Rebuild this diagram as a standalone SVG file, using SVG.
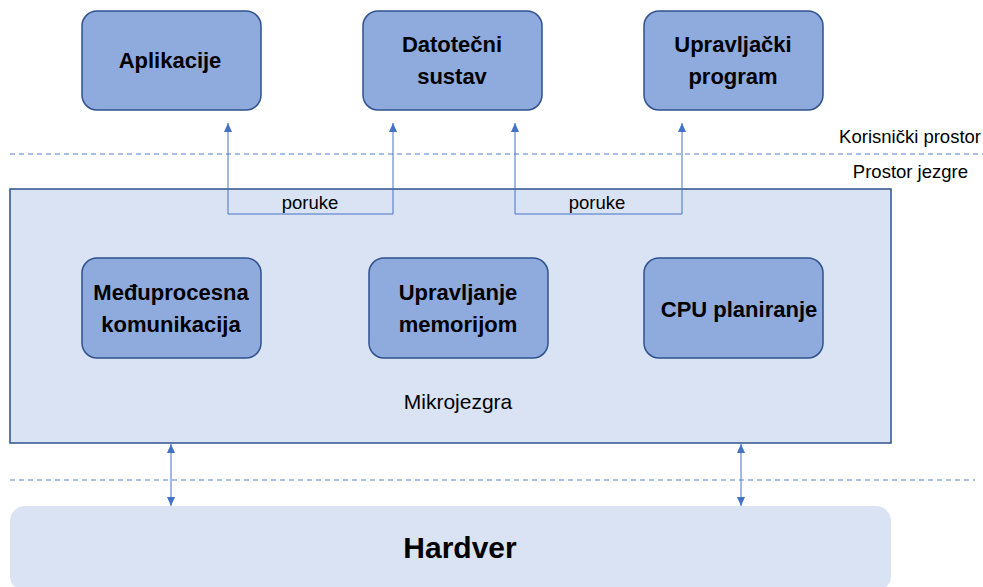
<svg xmlns="http://www.w3.org/2000/svg" width="983" height="587" viewBox="0 0 983 587">
<style>
.node{fill:#8faadc;stroke:#2f528f;stroke-width:1.5}
.nt{font-family:"Liberation Sans",Arial,sans-serif;font-weight:bold;font-size:22px;fill:#000;text-anchor:middle}
.lbl{font-family:"Liberation Sans",Arial,sans-serif;font-size:18.5px;fill:#000}
.dash{stroke:#8faadc;stroke-width:1.5;stroke-dasharray:5,4;fill:none}
.conn{stroke:#4472c4;stroke-width:1;fill:none}
</style>
<defs>
<marker id="ah" viewBox="0 0 10 10" refX="10" refY="5" markerWidth="9" markerHeight="8" orient="auto-start-reverse" markerUnits="userSpaceOnUse" preserveAspectRatio="none">
<path d="M0,0 L10,5 L0,10 Z" fill="#4472c4"/>
</marker>
</defs>
<rect width="983" height="587" fill="#fff"/>
<line class="dash" x1="10" y1="154" x2="983" y2="154"/>
<line class="dash" x1="10" y1="480" x2="975" y2="480"/>
<text class="lbl" x="981" y="143" text-anchor="end">Korisnički prostor</text>
<text class="lbl" x="968" y="178" text-anchor="end">Prostor jezgre</text>
<g id="kernel">
<rect x="10" y="189" width="881" height="254" fill="#dae3f3" stroke="#2f528f" stroke-width="1.5"/>
<text class="lbl" x="458" y="409" text-anchor="middle" style="font-size:21px">Mikrojezgra</text>
</g>
<g id="hardver">
<rect x="10" y="506" width="881" height="85" rx="15" fill="#dae3f3"/>
<text x="460" y="558" text-anchor="middle" font-family="Liberation Sans,Arial,sans-serif" font-weight="bold" font-size="30">Hardver</text>
</g>
<g id="aplikacije">
<rect class="node" x="82" y="11" width="179" height="99" rx="15"/>
<text class="nt" x="170" y="68">Aplikacije</text>
</g>
<g id="datotecni">
<rect class="node" x="363" y="11" width="179" height="99" rx="15"/>
<text class="nt" x="452" y="52">Datotečni</text>
<text class="nt" x="452" y="84">sustav</text>
</g>
<g id="upravljacki">
<rect class="node" x="644" y="11" width="179" height="99" rx="15"/>
<text class="nt" x="733" y="52">Upravljački</text>
<text class="nt" x="733" y="84">program</text>
</g>
<g id="medjuprocesna">
<rect class="node" x="82" y="258" width="179" height="100" rx="15"/>
<text class="nt" x="171" y="300">Međuprocesna</text>
<text class="nt" x="171" y="332">komunikacija</text>
</g>
<g id="memorija">
<rect class="node" x="369" y="258" width="179" height="100" rx="15"/>
<text class="nt" x="458" y="300">Upravljanje</text>
<text class="nt" x="458" y="332">memorijom</text>
</g>
<g id="cpu">
<rect class="node" x="644" y="258" width="179" height="100" rx="15"/>
<text class="nt" x="739" y="317">CPU planiranje</text>
</g>
<g id="connectors">
<polyline class="conn" points="228,123 228,214 393,214 393,123" marker-start="url(#ah)" marker-end="url(#ah)"/>
<polyline class="conn" points="515,123 515,214 682,214 682,123" marker-start="url(#ah)" marker-end="url(#ah)"/>
<text class="lbl" x="310" y="209" text-anchor="middle">poruke</text>
<text class="lbl" x="597" y="209" text-anchor="middle">poruke</text>
<line class="conn" x1="171" y1="444" x2="171" y2="506" marker-start="url(#ah)" marker-end="url(#ah)"/>
<line class="conn" x1="741" y1="444" x2="741" y2="506" marker-start="url(#ah)" marker-end="url(#ah)"/>
</g>
</svg>
